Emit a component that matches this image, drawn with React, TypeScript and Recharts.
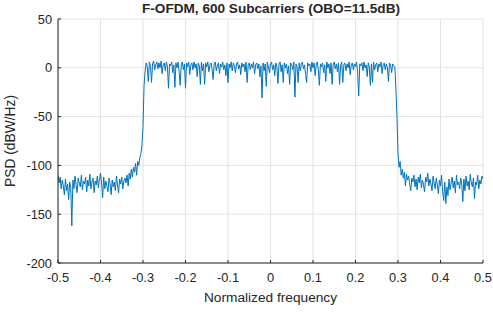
import { LineChart, Line, XAxis, YAxis, CartesianGrid, Label } from 'recharts'

// PSD in dBW/Hz, sampled every 0.0025 of normalized frequency
const FREQ_START = -0.5
const FREQ_STEP = 0.0025

// -0.5 .. -0.3025
const leftStopband = [
  -110, -118, -112, -124, -115,
  -121, -130, -114, -126, -119, -135, -117, -123,
  -162,
  -115, -124, -111, -120, -128, -113, -118, -122, -110, -125, -116,
  -119, -112, -127, -115, -121, -109, -124, -117, -113, -128, -116, -120, -111, -123, -114, -108,
  -118, -133, -112, -124, -116, -121, -127, -113, -119, -130,
  -115, -122, -117, -126, -111, -120, -128, -114, -119, -112, -124, -116,
  -113, -118, -110, -121, -108, -114, -104, -112, -102, -107, -98, -110, -96, -100, -92, -88, -80,
]

// -0.3 .. 0.2975
const passband = [
  -60, -18, -3, 5, 1, -14, 6, 2, -15, 4, 7, -2, 3, 6, -1, 5, 0, 7, -6, 3,
  5, -3, 6, 1, -21, 4, 2, 6, -5, 3, -20, 5, 0, 6, -4, -18, 3, 6, -2, 4,
  -21, 5, 1, 6, -7, 3, 5, -2, 6, 0, 4, -9, 5, 2, -17, 6, -3, 4, -17, 5,
  1, 6, -4, 3, 5, -1, -12, 4, 6, -3, 2, 5, -6, 4, 1, 6, -2, 3, -8, 5,
  -15, 4, 0, 6, -3, 5, 2, -5, 4, 6, -1, 3, -7, 5, 1, 4, -4, 6, -15, 3,
  5, -2, 4, 0, 6, -6, 3, 5, -1, 4, -9, 2, -31, 5, -3, 4, -19, 6, 1, -5,
  4, 6, -2, 3, -8, 5, 1, -16, 4, 6, -4, 3, -15, 5, 0, 4, -6, 2, -17, 5,
  3, -2, 6, -30, 4, 1, -15, 5, -3, 4, 6, -1, 3, -7, -15, 5, 2, 4, -4, 6,
  0, 5, -8, 3, 6, -2, -18, 4, 1, 5, -5, 3, -14, 6, 0, 4, -6, 5, -17, 3,
  6, -1, 4, -4, 5, -17, 2, 6, -15, 3, 5, -3, 4, 0, 6, -7, 3, 5, -2, 4,
  1, 6, -5, -29, 4, 2, 5, -3, 6, 0, 3, -9, 5, 1, -18, 4, -15, 6, -2, 3,
  5, -4, 4, 1, 6, -6, 3, 5, -2, 4, 0, -14, 5, 3, -5, 4, 2, 1, -20, -50,
]

// 0.3 .. 0.5
const rightStopband = [
  -88, -102, -96, -110, -104,
  -113, -107, -121, -109, -115,
  -111, -119, -126, -113, -117, -110, -122, -114, -125, -112,
  -118, -109, -123, -115, -120, -127, -112, -117, -108, -121,
  -114, -119, -126, -111, -118, -124, -113, -120, -129, -115,
  -121, -110, -127, -136, -117, -139, -122, -131, -114, -125,
  -118, -112, -123, -116, -128, -110, -120, -117, -124, -113,
  -119, -137, -114, -126, -111, -121, -116, -125, -109, -118,
  -122, -113, -134, -117, -120, -110, -124, -115, -119, -111, -114,
]

const xTicks = [-0.5, -0.4, -0.3, -0.2, -0.1, 0, 0.1, 0.2, 0.3, 0.4, 0.5]
const yTicks = [-200, -150, -100, -50, 0, 50]

const data = [...leftStopband, ...passband, ...rightStopband].map((v, i) => ({
  f: FREQ_START + i * FREQ_STEP,
  psd: v,
}))

const textColor = '#262626'
const font = '"Liberation Sans", Arial, sans-serif'

export default function App() {
  return (
    <div style={{ position: 'absolute', left: 0, top: 0, width: 493, height: 312, background: '#fff', fontFamily: font }}>
      <div
        style={{
          position: 'absolute', left: 58, width: 426, top: 1, textAlign: 'center',
          fontWeight: 'bold', fontSize: 13.6, color: textColor, lineHeight: '16px',
        }}
      >
        F-OFDM, 600 Subcarriers (OBO=11.5dB)
      </div>
      <LineChart width={493} height={312} data={data} margin={{ top: 19, right: 10, bottom: 0, left: 0 }}>
        <CartesianGrid stroke="#e3e3e3" strokeWidth={1} />
        <XAxis
          dataKey="f"
          type="number"
          domain={[-0.5, 0.5]}
          ticks={xTicks}
          tickFormatter={(v: number) => String(Math.round(v * 10) / 10)}
          height={49}
          stroke={textColor}
          tickSize={-3}
          tickMargin={13}
          tick={{ fill: textColor, fontSize: 12.8, fontFamily: font }}
          allowDataOverflow
        >
          <Label value="Normalized frequency" position="insideBottom" offset={10} style={{ fill: textColor, fontSize: 13.7, fontFamily: font }} />
        </XAxis>
        <YAxis
          type="number"
          domain={[-200, 50]}
          ticks={yTicks}
          width={58}
          stroke={textColor}
          tickSize={-3}
          tickMargin={9}
          tick={{ fill: textColor, fontSize: 12.8, fontFamily: font }}
          allowDataOverflow
        >
          <Label value="PSD (dBW/Hz)" angle={-90} position="insideLeft" offset={10} style={{ fill: textColor, fontSize: 13.8, fontFamily: font, textAnchor: 'middle' }} />
        </YAxis>
        <Line type="linear" dataKey="psd" stroke="#0072BD" strokeWidth={1} dot={false} isAnimationActive={false} />
      </LineChart>
    </div>
  )
}
